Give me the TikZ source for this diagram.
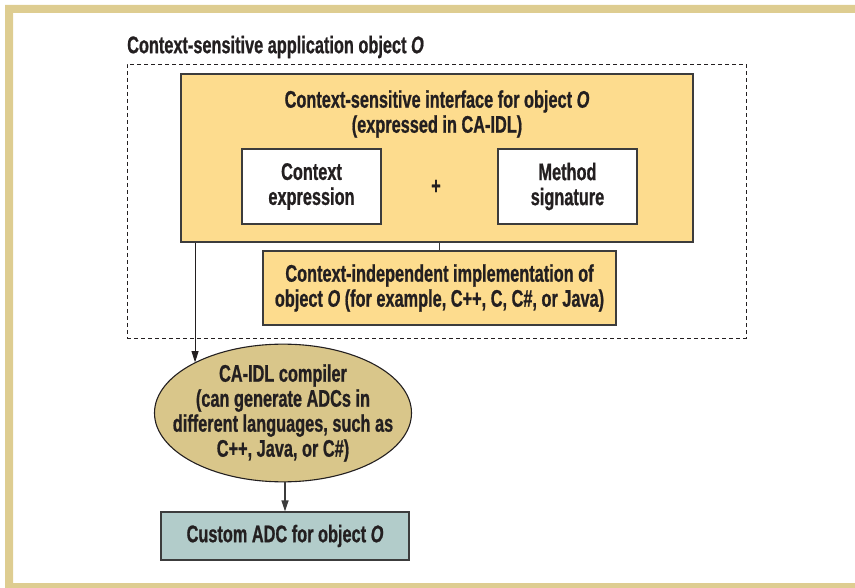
\documentclass[tikz,border=0pt]{standalone}
\usepackage{fontspec}
\setmainfont[FakeStretch=0.68,BoldFeatures={FakeBold=0.8},BoldItalicFeatures={FakeBold=0.8}]{Liberation Sans}
\usetikzlibrary{arrows.meta,shapes.geometric}

\definecolor{frametan}{RGB}{222,205,145}
\definecolor{ifaceorange}{RGB}{253,220,142}
\definecolor{compilertan}{RGB}{217,198,138}
\definecolor{adcteal}{RGB}{178,204,202}
\definecolor{inkgray}{RGB}{35,31,32}
\definecolor{edgegray}{RGB}{60,60,60}

\tikzset{
  lbl/.style={font=\fontsize{24}{25}\selectfont\bfseries, text=inkgray, align=center, inner sep=0pt},
  box/.style={lbl, draw=edgegray, line width=1.1pt, rectangle},
}

\begin{document}
\begin{tikzpicture}[line cap=butt,line join=miter,>={Triangle[length=11pt,width=7pt]},x=1pt,y=-1pt]

\useasboundingbox (0,0) rectangle (855,588);
\fill [frametan] (5,5) -- (855,5) -- (855,13) -- (13,13) -- (13,583) -- (855,583) -- (855,588) -- (5,588) -- cycle;

% outer object
\node [lbl, anchor=west] (apptitle) at (127,47) {Context-sensitive application object \textit{O}};
\node [draw=inkgray, line width=0.9pt, dash pattern=on 4pt off 3pt, minimum width=619pt, minimum height=274pt, inner sep=0pt] (app) at (436.5,201) {};

% interface
\node [box, fill=ifaceorange, minimum width=512pt, minimum height=168pt] (iface) at (437,158) {};
\node [lbl] (ifacetitle) at (437,114) {Context-sensitive interface for object \textit{O}\\(expressed in CA-IDL)};
\node [box, fill=white, minimum width=139pt, minimum height=75pt] (ctx) at (311.5,186.5) {Context\\expression};
\node [box, fill=white, minimum width=139pt, minimum height=75pt] (sig) at (567.5,186.5) {Method\\signature};
\node [lbl] (plus) at (436,187) {+};

% implementation
\node [box, fill=ifaceorange, minimum width=353pt, minimum height=74pt] (impl) at (439.5,288) {Context-independent implementation of\\object \textit{O} (for example, C++, C, C\#, or Java)};
\draw [edgegray, line width=1.1pt] (iface.south -| impl.north) -- (impl.north);

% compiler
\node [lbl, ellipse, draw=inkgray, line width=1.1pt, fill=compilertan, inner xsep=-22pt, inner ysep=0pt, minimum width=257pt, minimum height=128pt] (compiler) at (283,413) {CA-IDL compiler\\(can generate ADCs in\\different languages, such as\\C++, Java, or C\#)};
\node [box, fill=adcteal, minimum width=248pt, minimum height=48pt] (adc) at (285,536) {Custom ADC for object \textit{O}};

\draw [->, inkgray, line width=0.9pt] (iface.south -| compiler.150) -- (compiler.150);
\draw [->, edgegray, line width=1.3pt] (compiler.south -| adc.north) -- (adc.north);

\end{tikzpicture}
\end{document}
